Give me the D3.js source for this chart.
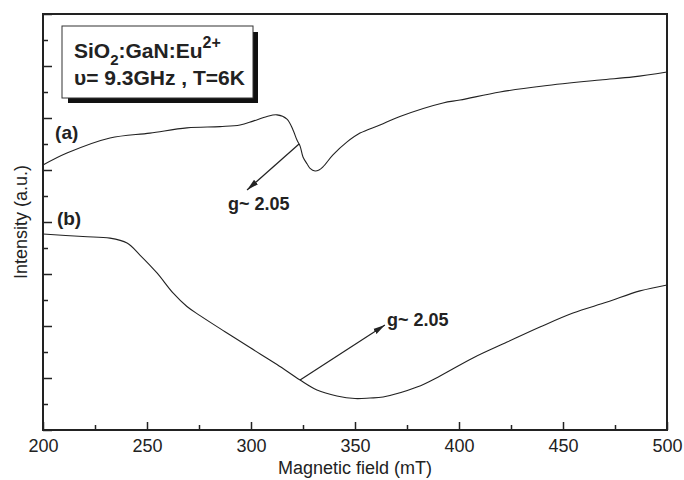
<!DOCTYPE html>
<html>
<head>
<meta charset="utf-8">
<script src="https://cdn.jsdelivr.net/npm/d3@7"></script>
<style>
  body { margin: 0; background: #fff; }
  svg text { font-family: "Liberation Sans", Arial, sans-serif; fill: #222; }
</style>
</head>
<body>
<div id="chart"></div>
<script>
// Corba (a): camp magnètic (mT) i intensitat (u.a.)
const fieldA = [200, 211.5, 232.2, 251.4, 269.2, 285.1, 294.7, 301.0, 307.7, 312.5, 317.3, 320.2,
    322.1, 323.6, 325.0, 327.0, 328.4, 330.8, 332.7, 334.6, 339.4, 346.2, 352.4, 362.0, 371.6,
    392.3, 400.5, 419.7, 440.4, 467.8, 483.7, 500];
const intensityA = [10.19, 10.65, 11.23, 11.42, 11.62, 11.67, 11.73, 11.88, 12.06, 12.12, 11.96, 11.54,
    11.15, 10.92, 10.50, 10.23, 10.06, 9.96, 10.0, 10.12, 10.58, 11.08, 11.42, 11.73, 12.06,
    12.58, 12.69, 13.0, 13.23, 13.46, 13.58, 13.77];

// Corba (b)
const fieldB = [200, 219.2, 232.2, 240.4, 246.6, 254.8, 262.5, 269.2, 275.5, 287.5, 299.5, 312.5,
    323.6, 331.7, 341.3, 350.0, 357.2, 363.5, 379.8, 390.9, 406.7, 423.1, 438.9, 454.8, 471.2,
    487.0, 500];
const intensityB = [7.54, 7.44, 7.38, 7.19, 6.73, 6.04, 5.27, 4.75, 4.40, 3.78, 3.17, 2.52,
    1.92, 1.54, 1.31, 1.21, 1.23, 1.27, 1.65, 2.08, 2.77, 3.38, 3.96, 4.5, 4.92,
    5.35, 5.58];

// Marques dels eixos
const xMajorTicks = [200, 250, 300, 350, 400, 450, 500];
const xMinorTicks = [225, 275, 325, 375, 425, 475];
const yMajorTicks = [0, 2, 4, 6, 8, 10, 12, 14, 16];
const yMinorTicks = [1, 3, 5, 7, 9, 11, 13, 15];

// Etiquetes de les corbes i fletxes en unitats de dades
const curveLabels = [
    { text: "(a)", x: 205.8, y: 11.19 },
    { text: "(b)", x: 206.7, y: 7.88 }
];
const arrows = [
    { from: [323.1, 11.0], to: [298.1, 9.23], label: "g~ 2.05", lx: 288.9, ly: 8.46 },
    { from: [323.6, 1.92], to: [364.4, 4.04], label: "g~ 2.05", lx: 365.4, ly: 4.0 }
];

const width = 684, height = 480;
const margin = { top: 14, right: 17, bottom: 50, left: 43 };
const innerWidth = width - margin.left - margin.right;
const innerHeight = height - margin.top - margin.bottom;

const svg = d3.select("#chart").append("svg")
    .attr("width", width)
    .attr("height", height);

const chart = svg.append("g")
    .attr("transform", `translate(${margin.left}, ${margin.top})`);

const x = d3.scaleLinear().domain([200, 500]).range([0, innerWidth]);
const y = d3.scaleLinear().domain([0, 16]).range([innerHeight, 0]);

// Eix X: marques cap a dins
chart.append("g")
    .attr("transform", `translate(0, ${innerHeight})`)
    .call(d3.axisBottom(x).tickValues(xMajorTicks).tickSize(-8).tickPadding(9).tickFormat(d3.format("d")))
    .call(g => g.select(".domain").remove())
    .call(g => g.selectAll("line").attr("stroke", "#222").attr("stroke-width", 1.5))
    .call(g => g.selectAll("text").style("font-size", "18px").attr("fill", "#222"));

chart.append("g")
    .attr("transform", `translate(0, ${innerHeight})`)
    .call(d3.axisBottom(x).tickValues(xMinorTicks).tickSize(-5).tickFormat(""))
    .call(g => g.select(".domain").remove())
    .call(g => g.selectAll("line").attr("stroke", "#222").attr("stroke-width", 1.5));

// Eix Y sense etiquetes
chart.append("g")
    .call(d3.axisLeft(y).tickValues(yMajorTicks).tickSize(-9).tickFormat(""))
    .call(g => g.select(".domain").remove())
    .call(g => g.selectAll("line").attr("stroke", "#222").attr("stroke-width", 1.5));

chart.append("g")
    .call(d3.axisLeft(y).tickValues(yMinorTicks).tickSize(-5).tickFormat(""))
    .call(g => g.select(".domain").remove())
    .call(g => g.selectAll("line").attr("stroke", "#222").attr("stroke-width", 1.5));

// Marc del gràfic
chart.append("rect")
    .attr("width", innerWidth)
    .attr("height", innerHeight)
    .attr("fill", "none")
    .attr("stroke", "#222")
    .attr("stroke-width", 2);

// Corbes
const line = d3.line()
    .x(d => x(d[0]))
    .y(d => y(d[1]))
    .curve(d3.curveCatmullRom.alpha(0.5));

chart.append("path")
    .datum(d3.zip(fieldA, intensityA))
    .attr("d", line)
    .attr("fill", "none")
    .attr("stroke", "#222")
    .attr("stroke-width", 1.1);

chart.append("path")
    .datum(d3.zip(fieldB, intensityB))
    .attr("d", line)
    .attr("fill", "none")
    .attr("stroke", "#222")
    .attr("stroke-width", 1.1);

// Etiquetes (a) i (b)
chart.selectAll(".curve-label")
    .data(curveLabels)
    .enter()
    .append("text")
    .attr("class", "curve-label")
    .attr("x", d => x(d.x))
    .attr("y", d => y(d.y))
    .style("font-size", "19px")
    .style("font-weight", "bold")
    .text(d => d.text);

// Fletxes
svg.append("defs").append("marker")
    .attr("id", "arrowhead")
    .attr("viewBox", "0 0 12 10")
    .attr("refX", 12)
    .attr("refY", 5)
    .attr("markerWidth", 12)
    .attr("markerHeight", 10)
    .attr("markerUnits", "userSpaceOnUse")
    .attr("orient", "auto")
    .append("path")
    .attr("d", "M0,2 L12,5 L0,8 Z")
    .attr("fill", "#222");

chart.selectAll(".arrow")
    .data(arrows)
    .enter()
    .append("line")
    .attr("class", "arrow")
    .attr("x1", d => x(d.from[0]))
    .attr("y1", d => y(d.from[1]))
    .attr("x2", d => x(d.to[0]))
    .attr("y2", d => y(d.to[1]))
    .attr("stroke", "#222")
    .attr("stroke-width", 1.2)
    .attr("marker-end", "url(#arrowhead)");

chart.selectAll(".arrow-label")
    .data(arrows)
    .enter()
    .append("text")
    .attr("class", "arrow-label")
    .attr("x", d => x(d.lx))
    .attr("y", d => y(d.ly))
    .style("font-size", "18px")
    .style("font-weight", "bold")
    .text(d => d.label);

// Llegenda amb ombra
const legend = svg.append("g");
legend.append("rect")
    .attr("x", 68).attr("y", 32)
    .attr("width", 190).attr("height", 71)
    .attr("fill", "#111");
legend.append("rect")
    .attr("x", 62).attr("y", 26)
    .attr("width", 191).attr("height", 72)
    .attr("fill", "#fff")
    .attr("stroke", "#333")
    .attr("stroke-width", 1);

const t1 = legend.append("text")
    .attr("x", 74).attr("y", 58)
    .style("font-size", "21px")
    .style("font-weight", "bold");
t1.append("tspan").text("SiO");
t1.append("tspan").attr("dy", 7).style("font-size", "15px").text("2");
t1.append("tspan").attr("dy", -7).text(":GaN:Eu");
t1.append("tspan").attr("dy", -10).style("font-size", "16px").text("2+");

legend.append("text")
    .attr("x", 74).attr("y", 85)
    .style("font-size", "21px")
    .style("font-weight", "bold")
    .text("υ= 9.3GHz , T=6K");

// Títols dels eixos
svg.append("text")
    .attr("x", margin.left + innerWidth / 2)
    .attr("y", 474)
    .attr("text-anchor", "middle")
    .style("font-size", "18px")
    .text("Magnetic field (mT)");

svg.append("text")
    .attr("transform", "rotate(-90)")
    .attr("x", -(margin.top + innerHeight / 2))
    .attr("y", 27)
    .attr("text-anchor", "middle")
    .style("font-size", "18px")
    .text("Intensity (a.u.)");
</script>
</body>
</html>
